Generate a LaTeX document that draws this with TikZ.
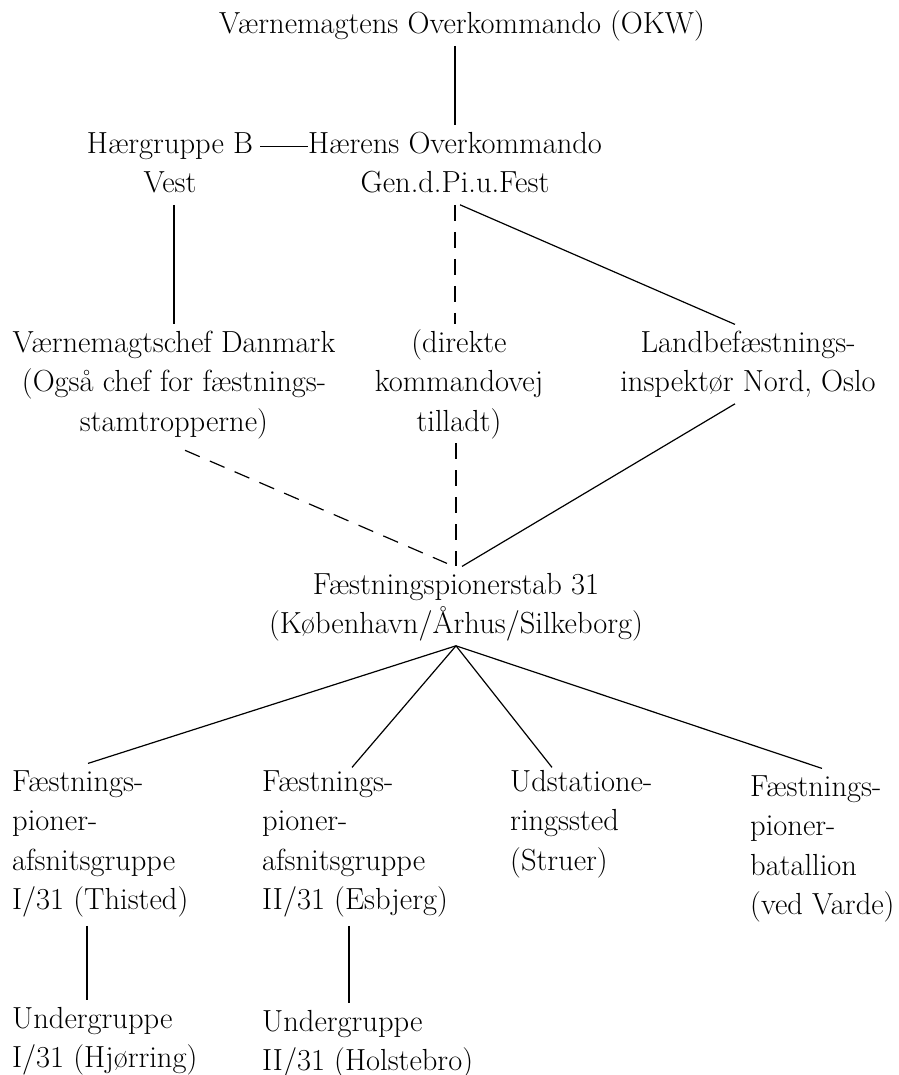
\documentclass[tikz,border=0pt]{standalone}
\usepackage{fontspec}
\begin{document}
\begin{tikzpicture}[x=1pt,y=-1pt,
  lab/.style={inner sep=0pt, font=\fontsize{30.5}{39.5}\selectfont},
  ctr/.style={lab, align=center, anchor=north},
  lft/.style={lab, align=left, anchor=north west},
  conn/.style={line width=1.2pt},
  dconn/.style={conn, dash pattern=on 16pt off 11pt}]
\useasboundingbox (0,0) rectangle (898,1075);
\node[lab, anchor=base] (okw) at (462,34) {Værnemagtens Overkommando (OKW)};
\node[ctr] (hgb) at (170,125.4) {\strut Hærgruppe B\\Vest\strut};
\node[ctr] (hok) at (455,125.4) {\strut Hærens Overkommando\\Gen.d.Pi.u.Fest\strut};
\node[ctr] (vdk) at (174,324.4) {\strut Værnemagtschef Danmark\\(Også chef for fæstnings-\\stamtropperne)\strut};
\node[ctr] (dir) at (459,324.4) {\strut (direkte\\kommandovej\\tilladt)\strut};
\node[ctr] (lbi) at (748,324.4) {\strut Landbefæstnings-\\inspektør Nord, Oslo\strut};
\node[ctr] (fps) at (456,566.4) {\strut Fæstningspionerstab 31\\(København/Århus/Silkeborg)\strut};
\node[lft] (pa1) at (12,763.4) {\strut Fæstnings-\\pioner-\\afsnitsgruppe\\I/31 (Thisted)\strut};
\node[lft] (pa2) at (262,763.4) {\strut Fæstnings-\\pioner-\\afsnitsgruppe\\II/31 (Esbjerg)\strut};
\node[lft] (ust) at (510,763.4) {\strut Udstatione-\\ringssted\\(Struer)\strut};
\node[lft] (pbt) at (750,768.4) {\strut Fæstnings-\\pioner-\\batallion\\(ved Varde)\strut};
\node[lft] (ug1) at (12,1000.4) {\strut Undergruppe\\I/31 (Hjørring)\strut};
\node[lft] (ug2) at (262,1003.4) {\strut Undergruppe\\II/31 (Holstebro)\strut};
% connectors
\draw[conn, shorten <=4pt] (hok.north |- okw.south) -- (hok.north);
\draw[conn] ([xshift=7pt,yshift=-21pt]hgb.north east) -- ([yshift=-21pt]hok.north west);
\draw[conn] (vdk.north |- hgb.south) -- (vdk.north);
\draw[dconn] (hok.south) -- (hok.south |- dir.north);
\draw[dconn] (dir.south -| fps.north) -- (fps.north);
\draw[conn] ([xshift=5pt]hok.south) -- ([xshift=-13pt]lbi.north);
\draw[dconn] ([xshift=11pt,yshift=-7pt]vdk.south) -- ([xshift=-9pt,yshift=3pt]fps.north);
\draw[conn] ([xshift=-13pt]lbi.south) -- ([xshift=6pt]fps.north);
\draw[conn] (fps.south) -- ([xshift=76pt]pa1.north west);
\draw[conn] (fps.south) -- ([xshift=90pt,yshift=-4pt]pa2.north west);
\draw[conn] (fps.south) -- ([xshift=42pt,yshift=-4pt]ust.north west);
\draw[conn] (fps.south) -- ([xshift=72pt]pbt.north west);
\draw[conn, shorten <=4pt] ([xshift=75pt]pa1.south west) -- ([xshift=75pt]pa1.south west |- ug1.north);
\draw[conn, shorten <=4pt] ([xshift=87pt]pa2.south west) -- ([xshift=87pt]pa2.south west |- ug2.north);
\end{tikzpicture}
\end{document}
